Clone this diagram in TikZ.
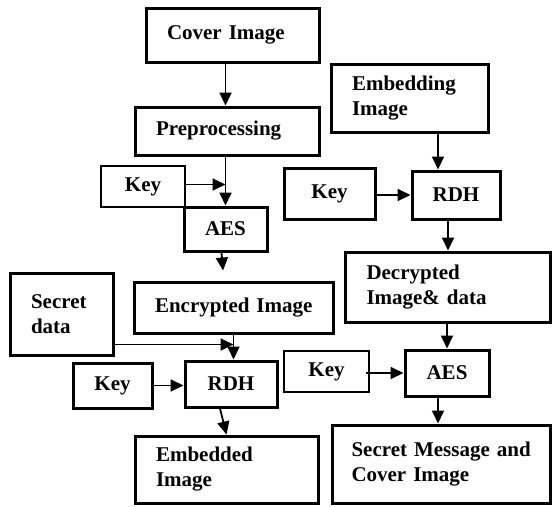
\documentclass[tikz,border=0pt]{standalone}
\usepackage{fontspec}
\setmainfont{Liberation Serif}
\usetikzlibrary{arrows.meta,calc}

\begin{document}
\begin{tikzpicture}[x=1pt, y=-1pt,
  box/.style={rectangle, draw, line width=3pt, inner sep=0pt, font=\bfseries\fontsize{21}{25}\selectfont},
  thinbox/.style={box, line width=1.2pt},
  txtbox/.style={box, align=left},
  flow/.style={-{Triangle[length=13pt,width=12pt]}, line width=1.8pt}]
  \useasboundingbox (0,0) rectangle (553,506);

  % Verschluesselung (links)
  \node [box, txtbox, minimum width=173pt, minimum height=54pt, text width=131pt] (cover) at (232.5,35) {\mbox{Cover Image}};
  \node [box, txtbox, minimum width=184pt, minimum height=48pt, text width=142pt] (pre) at (227,131) {\mbox{Preprocessing}};
  \node [thinbox, minimum width=84pt, minimum height=41pt] (keya) at (143,186.5) {Key};
  \node [box, minimum width=83pt, minimum height=44pt] (aesa) at (225.5,229) {AES};
  \node [box, txtbox, minimum width=103pt, minimum height=82pt, text width=61pt] (secret) at (61.5,314) {Secret\\data};
  \node [box, txtbox, minimum width=199pt, minimum height=51pt, text width=157pt] (enc) at (233.5,307.5) {\mbox{Encrypted Image}};
  \node [box, minimum width=79pt, minimum height=45pt] (keyb) at (112.5,385.5) {Key};
  \node [box, minimum width=92pt, minimum height=46pt] (rdha) at (231,384) {RDH};
  \node [box, txtbox, minimum width=183pt, minimum height=67pt, text width=141pt] (embd) at (226.5,469.5) {Embedded\\Image};

  % Entschluesselung (rechts)
  \node [box, txtbox, minimum width=157pt, minimum height=68pt, text width=115pt] (embi) at (409.5,98) {Embedding\\Image};
  \node [box, minimum width=91pt, minimum height=51pt] (keyc) at (329.5,193.5) {Key};
  \node [box, minimum width=88pt, minimum height=48pt] (rdhb) at (456,195) {RDH};
  \node [box, txtbox, minimum width=205pt, minimum height=70pt, text width=163pt] (dec) at (448,287) {Decrypted\\Image\& data};
  \node [thinbox, minimum width=85pt, minimum height=41pt] (keyd) at (326.5,371.5) {Key};
  \node [box, minimum width=84pt, minimum height=46pt] (aesb) at (447,373) {AES};
  \node [box, txtbox, minimum width=218pt, minimum height=78pt, text width=180pt] (msg) at (441.5,464) {\mbox{Secret Message and}\\Cover Image};

  % Hilfspunkte
  \coordinate (keyaend) at ($(pre.south -| aesa.north)+(0,28)$);
  \coordinate (secretend) at ($(enc.south)+(0,10)$);
  \coordinate (aesaend) at ($(enc.north)+(-10.5,-10)$);

  % Pfeile
  \draw[flow] (cover.south -| aesa.north) -- (pre.north -| aesa.north);
  \draw[flow] (pre.south -| aesa.north) -- (aesa.north);
  \draw[flow] (keya.east |- keyaend) -- (keyaend);
  \draw[flow] ([xshift=-4pt]aesa.south) -- (aesaend);
  \draw[flow] (enc.south) -- (enc.south |- rdha.north);
  \draw[flow] (secret.east |- secretend) -- (secretend);
  \draw[flow] (keyb.east) -- (keyb.east -| rdha.west);
  \draw[flow] ([xshift=-11pt]rdha.south) -- (embd.north);

  \draw[flow] ([xshift=28.5pt]embi.south) -- ([xshift=-18pt]rdhb.north);
  \draw[flow] (keyc.east |- rdhb.west) -- (rdhb.west);
  \draw[flow] (rdhb.south -| dec.north) -- (dec.north);
  \draw[flow] (dec.south -| aesb.north) -- (aesb.north);
  \draw[flow] ([xshift=-4pt]keyd.east |- aesb.west) -- (aesb.west);
  \draw[flow] ([xshift=-9pt]aesb.south) -- ([xshift=-3.5pt]msg.north);
\end{tikzpicture}
\end{document}
